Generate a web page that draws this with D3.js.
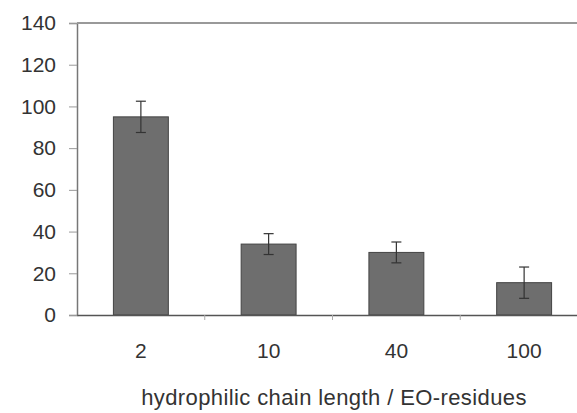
<!DOCTYPE html>
<html>
<head>
<meta charset="utf-8">
<script src="https://cdn.jsdelivr.net/npm/d3@7"></script>
<style>
  body { margin: 0; background: #fff; }
  svg text { font-family: "Liberation Sans", Arial, sans-serif; fill: #333; }
</style>
</head>
<body>
<div id="chart"></div>
<script>
// chain lengths (EO residues) and measured values
var categories = ["2", "10", "40", "100"];
var values = [95, 34, 30, 15.5];
var errors = [7.5, 5, 5, 7.5];
var yTicks = [0, 20, 40, 60, 80, 100, 120, 140];

var width = 577, height = 413;
var plotLeft = 77, plotTop = 23, plotBottom = 315, plotRight = 588;

var svg = d3.select("#chart").append("svg")
    .attr("width", width)
    .attr("height", height);

var x = d3.scaleBand().domain(categories).range([plotLeft, plotRight]).paddingInner(0.57).paddingOuter(0.285);
var y = d3.scaleLinear().domain([0, 140]).range([plotBottom, plotTop]);

// y axis
var yAxis = svg.append("g")
    .attr("transform", "translate(" + plotLeft + ",0)")
    .call(d3.axisLeft(y).tickValues(yTicks).tickSize(8).tickPadding(13));
yAxis.select(".domain").attr("stroke", "#777").attr("stroke-width", 1.5);
yAxis.selectAll(".tick line").attr("stroke", "#999");
yAxis.selectAll(".tick text").style("font-size", "21px").attr("fill", "#333");

// top border
svg.append("line")
    .attr("x1", plotLeft).attr("x2", width)
    .attr("y1", y(140)).attr("y2", y(140))
    .attr("stroke", "#999").attr("stroke-width", 2);

// bars
svg.selectAll("rect.bar").data(values).enter().append("rect")
    .attr("class", "bar")
    .attr("x", function(d, i) { return x(categories[i]); })
    .attr("y", function(d) { return y(d); })
    .attr("width", x.bandwidth())
    .attr("height", function(d) { return y(0) - y(d); })
    .attr("fill", "#6e6e6e")
    .attr("stroke", "#444")
    .attr("stroke-width", 1);

// error bars
var cap = 5;
var eb = svg.selectAll("g.err").data(values).enter().append("g").attr("class", "err");
eb.append("line")
    .attr("x1", function(d, i) { return x(categories[i]) + x.bandwidth() / 2; })
    .attr("x2", function(d, i) { return x(categories[i]) + x.bandwidth() / 2; })
    .attr("y1", function(d, i) { return y(d + errors[i]); })
    .attr("y2", function(d, i) { return y(d - errors[i]); })
    .attr("stroke", "#333").attr("stroke-width", 1.2);
[1, -1].forEach(function(s) {
    eb.append("line")
        .attr("x1", function(d, i) { return x(categories[i]) + x.bandwidth() / 2 - cap; })
        .attr("x2", function(d, i) { return x(categories[i]) + x.bandwidth() / 2 + cap; })
        .attr("y1", function(d, i) { return y(d + s * errors[i]); })
        .attr("y2", function(d, i) { return y(d + s * errors[i]); })
        .attr("stroke", "#333").attr("stroke-width", 1.2);
});

// x axis
var xAxis = svg.append("g")
    .attr("transform", "translate(0," + plotBottom + ")")
    .call(d3.axisBottom(x).tickSize(0).tickPadding(28));
xAxis.select(".domain").attr("stroke", "#555").attr("stroke-width", 1.5);
xAxis.selectAll(".tick text").style("font-size", "21px").attr("fill", "#333");
// separators between categories
svg.selectAll("line.sep").data(categories.slice(1)).enter().append("line")
    .attr("class", "sep")
    .attr("x1", function(d) { return x(d) - x.step() * x.paddingInner() / 2; })
    .attr("x2", function(d) { return x(d) - x.step() * x.paddingInner() / 2; })
    .attr("y1", plotBottom).attr("y2", plotBottom + 5)
    .attr("stroke", "#aaa");

svg.append("text")
    .attr("x", 334).attr("y", 405)
    .attr("text-anchor", "middle")
    .style("font-size", "22px")
    .style("letter-spacing", "0.4px")
    .text("hydrophilic chain length / EO-residues");
</script>
</body>
</html>
